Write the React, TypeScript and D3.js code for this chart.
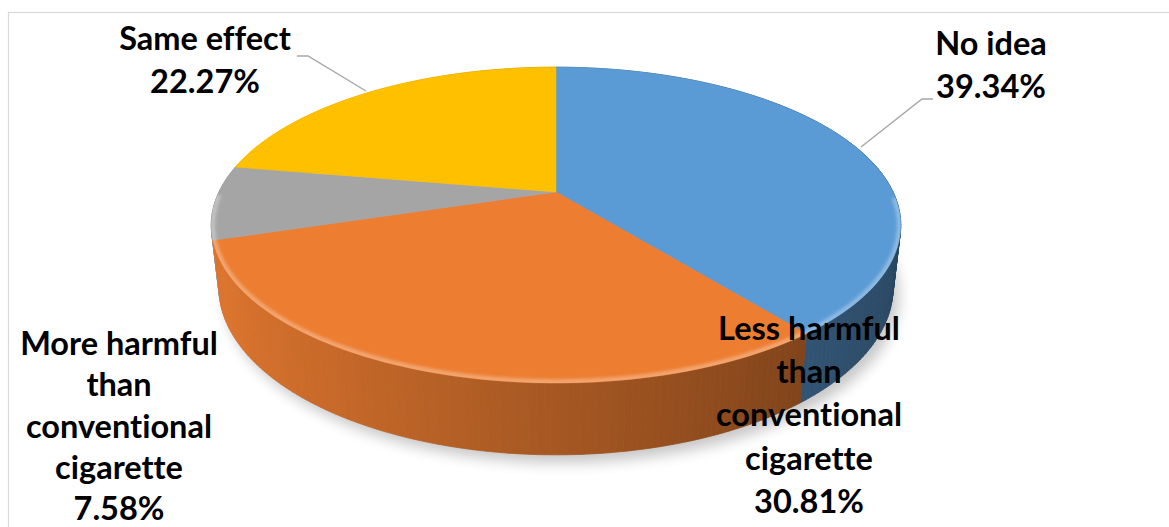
import React from "react";
import * as d3 from "d3";

const categories = [
  "No idea",
  "Less harmful than conventional cigarette",
  "More harmful than conventional cigarette",
  "Same effect",
];
const values = [39.34, 30.81, 7.58, 22.27];
const valueLabels = ["39.34%", "30.81%", "7.58%", "22.27%"];
const labelLines = [
  ["No idea"],
  ["Less harmful", "than", "conventional", "cigarette"],
  ["More harmful", "than", "conventional", "cigarette"],
  ["Same effect"],
];
const colors = ["#5b9bd5", "#ed7d31", "#a5a5a5", "#ffc000"];

const W = 1169;
const H = 527;

// 3D projection parameters
const CX = 556;
const CY = 192;
const K = 1436;
const D = 4.26;
const SIN = 0.448;
const COS = Math.sqrt(1 - SIN * SIN);
const T = 0.207;

function proj(a: number, y: number): [number, number, number] {
  const x = Math.sin(a);
  const z = -Math.cos(a);
  const yp = y * COS - z * SIN;
  const zp = y * SIN + z * COS;
  const den = D - zp;
  return [CX + (K * x) / den, CY - (K * yp) / den, zp];
}
function center(y: number): [number, number] {
  const yp = y * COS;
  const zp = y * SIN;
  const den = D - zp;
  return [CX, CY - (K * yp) / den];
}

// label layout (positions)
const labelLayout = [
  { x: 991, y: 55, dy: 43, leader: [[933, 99], [922, 99], [861, 147]] },
  { x: 809, y: 340, dy: 43.2, leader: null },
  { x: 119, y: 355, dy: 41.3, leader: null },
  { x: 205, y: 50, dy: 43, leader: [[297, 56], [308, 56], [366, 91]] },
];

export default function App() {
  const pie = d3
    .pie<number>()
    .sort(null)
    .startAngle(0)
    .endAngle(2 * Math.PI)
    .value((d) => d);
  const arcs = pie(values);

  const line = d3.line();

  type Quad = { d: string; fill: string; z: number };
  const quads: Quad[] = [];
  arcs.forEach((arc, i) => {
    const n = Math.max(4, Math.ceil(((arc.endAngle - arc.startAngle) * 180) / Math.PI));
    for (let j = 0; j < n; j++) {
      const a0 = arc.startAngle + ((arc.endAngle - arc.startAngle) * j) / n;
      const a1 = arc.startAngle + ((arc.endAngle - arc.startAngle) * (j + 1)) / n;
      const am = (a0 + a1) / 2;
      const p0 = proj(a0, 0);
      const p1 = proj(a1, 0);
      const p2 = proj(a1, -T);
      const p3 = proj(a0, -T);
      const f = 0.7 - 0.25 * Math.sin(am);
      const c = d3.rgb(colors[i]);
      const fill = d3.rgb(c.r * f, c.g * f, c.b * f).formatHex();
      quads.push({
        d: line([
          [p0[0], p0[1]],
          [p1[0], p1[1]],
          [p2[0], p2[1]],
          [p3[0], p3[1]],
        ])! + "Z",
        fill,
        z: -Math.cos(am),
      });
    }
  });
  quads.sort((a, b) => a.z - b.z);

  const c0 = center(0);
  const topPaths = arcs.map((arc) => {
    const pts: [number, number][] = [c0];
    const n = 120;
    for (let j = 0; j <= n; j++) {
      const a = arc.startAngle + ((arc.endAngle - arc.startAngle) * j) / n;
      const p = proj(a, 0);
      pts.push([p[0], p[1]]);
    }
    return line(pts)! + "Z";
  });

  const ellipsePath = (y: number, dx = 0, dy = 0) => {
    const pts: [number, number][] = d3.range(0, 361, 2).map((deg) => {
      const p = proj((deg * Math.PI) / 180, y);
      return [p[0] + dx, p[1] + dy];
    });
    return line(pts)! + "Z";
  };
  const rimPath = (() => {
    const pts: [number, number][] = d3.range(92, 270, 1).map((deg) => {
      const p = proj((deg * Math.PI) / 180, 0);
      return [p[0], p[1]];
    });
    return line(pts)!;
  })();

  return (
    <svg
      width={W}
      height={H}
      style={{ position: "absolute", left: 0, top: 0, display: "block", background: "#fff" }}
    >
      <defs>
        <filter id="shadowBlur" x="-20%" y="-20%" width="140%" height="140%">
          <feGaussianBlur stdDeviation="7" />
        </filter>
        <filter id="rimBlur" x="-10%" y="-10%" width="120%" height="120%">
          <feGaussianBlur stdDeviation="1.5" />
        </filter>
        <clipPath id="topClip">
          <path d={ellipsePath(0)} />
        </clipPath>
      </defs>
      <rect x={8.5} y={12.5} width={W} height={H} fill="#fff" stroke="#d9d9d9" strokeWidth={1.2} />

      <path d={ellipsePath(-T, 6, 8)} fill="#000" opacity={0.22} filter="url(#shadowBlur)" />

      <g>
        {quads.map((q, i) => (
          <path key={i} d={q.d} fill={q.fill} stroke={q.fill} strokeWidth={0.8} />
        ))}
      </g>

      <g>
        {topPaths.map((d, i) => (
          <path key={i} d={d} fill={colors[i]} stroke={colors[i]} strokeWidth={0.5} />
        ))}
      </g>

      <g clipPath="url(#topClip)">
        <path d={rimPath} fill="none" stroke="#fff" strokeOpacity={0.3} strokeWidth={8} filter="url(#rimBlur)" />
      </g>

      {labelLayout.map((l, i) =>
        l.leader ? (
          <path key={i} d={line(l.leader as [number, number][])!} fill="none" stroke="#a6a6a6" strokeWidth={1.4} />
        ) : null
      )}

      {labelLayout.map((l, i) => {
        const lines = [...labelLines[i], valueLabels[i]];
        return (
          <text
            key={i}
            x={l.x}
            y={l.y}
            textAnchor="middle"
            fontFamily="Lato, 'Open Sans', sans-serif"
            fontWeight="bold"
            fontSize={32.5}
            fill="#000"
            style={{ fontVariantLigatures: "none", fontFeatureSettings: '"liga" 0, "clig" 0' }}
          >
            {lines.map((s, j) => (
              <tspan key={j} x={l.x} y={l.y + j * l.dy}>
                {s}
              </tspan>
            ))}
          </text>
        );
      })}
    </svg>
  );
}
